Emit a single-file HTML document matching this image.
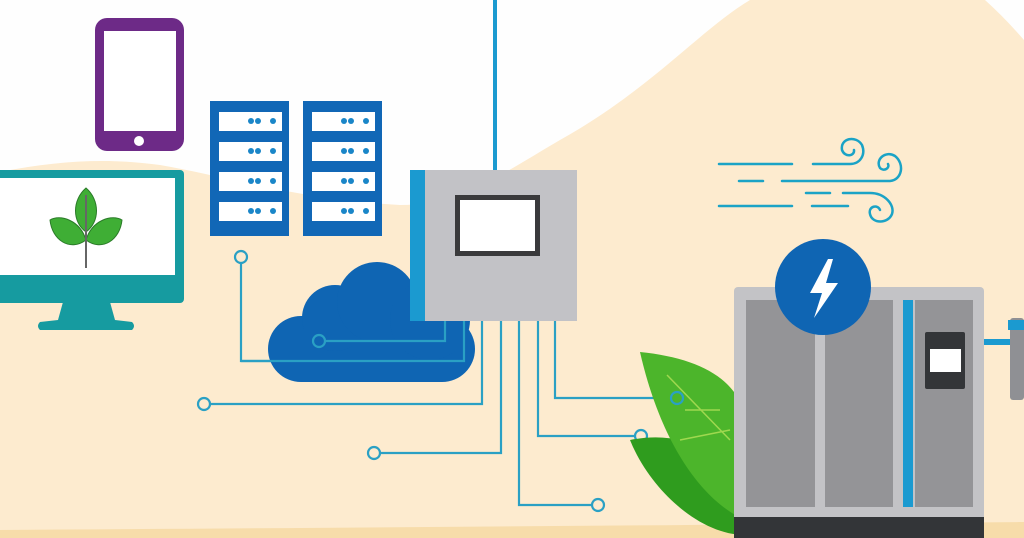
<!DOCTYPE html>
<html><head><style>html,body{margin:0;padding:0;background:#fff}svg{display:block}</style></head>
<body>
<svg width="1024" height="538" viewBox="0 0 1024 538" xmlns="http://www.w3.org/2000/svg">
<rect width="1024" height="538" fill="#fefefe"/>
<path d="M0 172 C60 160 110 158 160 165 C220 175 300 200 400 205 C460 205 500 175 560 140 C650 90 700 30 750 0 L985 0 Q1005 18 1024 40 L1024 538 L0 538 Z" fill="#fdebcf"/>
<path d="M0 530 C300 528 600 526 1024 522 L1024 538 L0 538Z" fill="#f7dcaa"/>
<rect x="493" y="0" width="4" height="172" fill="#1b9ad0"/>
<rect x="95" y="18" width="89" height="133" rx="12" fill="#6d2a87"/>
<rect x="104" y="31" width="72" height="100" fill="#fff"/>
<circle cx="139" cy="141" r="5" fill="#fff"/>
<rect x="-10" y="170" width="194" height="133" rx="4" fill="#169ba0"/>
<rect x="0" y="178" width="175" height="97" fill="#fff"/>
<path d="M63 302 L110 302 L115 320 L132 322 Q136 326 132 330 L40 330 Q36 326 40 322 L58 320Z" fill="#169ba0"/>
<g fill="#3fae35" stroke="#2a7a28" stroke-width="1">
<path d="M86 188 C72 200 72 222 86 232 C100 222 100 200 86 188Z"/>
<path d="M50 220 C60 214 80 220 86 240 C70 252 52 240 50 220Z"/>
<path d="M122 220 C112 214 92 220 86 240 C102 252 120 240 122 220Z"/>
</g>
<line x1="86" y1="195" x2="86" y2="268" stroke="#666" stroke-width="2"/>
<g id="srv">
<rect x="210" y="101" width="79" height="135" fill="#1167b6"/>
<g fill="#fff">
<rect x="219" y="112" width="63" height="19"/><rect x="219" y="142" width="63" height="19"/><rect x="219" y="172" width="63" height="19"/><rect x="219" y="202" width="63" height="19"/>
</g>
<g fill="#1a86c8">
<circle cx="251" cy="121" r="3"/><circle cx="258" cy="121" r="3"/><circle cx="273" cy="121" r="3"/>
<circle cx="251" cy="151" r="3"/><circle cx="258" cy="151" r="3"/><circle cx="273" cy="151" r="3"/>
<circle cx="251" cy="181" r="3"/><circle cx="258" cy="181" r="3"/><circle cx="273" cy="181" r="3"/>
<circle cx="251" cy="211" r="3"/><circle cx="258" cy="211" r="3"/><circle cx="273" cy="211" r="3"/>
</g>
</g>
<use href="#srv" x="93"/>
<g fill="none" stroke="#2aa0c4" stroke-width="2.2">
<path d="M241 263 V361 H464 V320"/>
<path d="M210 404 H482 V320"/>
<path d="M380 453 H501 V320"/>
<path d="M592 505 H519 V320"/>
<path d="M635 436 H538 V320"/>
<path d="M671 398 H555 V320"/>
<circle cx="241" cy="257" r="6"/><circle cx="204" cy="404" r="6"/>
<circle cx="374" cy="453" r="6"/><circle cx="598" cy="505" r="6"/><circle cx="641" cy="436" r="6"/>
</g>
<g fill="#0f65b3">
<rect x="268" y="316" width="207" height="66" rx="33"/>
<circle cx="335" cy="318" r="33"/>
<circle cx="377" cy="302" r="40"/>
<circle cx="430" cy="320" r="40"/>
</g>
<path d="M241 361 H464 V320" fill="none" stroke="#2aa0c4" stroke-width="2.2"/>
<path d="M325 341 H445 V320" fill="none" stroke="#2aa0c4" stroke-width="2.2"/>
<circle cx="319" cy="341" r="6" fill="none" stroke="#2aa0c4" stroke-width="2.2"/>
<rect x="410" y="170" width="167" height="151" fill="#c2c2c6"/>
<rect x="410" y="170" width="15" height="151" fill="#1b9ad0"/>
<rect x="455" y="195" width="85" height="61" fill="#3a3a3c"/>
<rect x="460" y="200" width="75" height="51" fill="#fff"/>
<g fill="none" stroke="#1ba3c6" stroke-width="2.5" stroke-linecap="round">
<path d="M719 164 H792"/><path d="M813 164 H850 C860 164 866 155 862 145 C856 135 840 138 842 150 C845 158 855 156 854 150"/>
<path d="M739 181 H763"/><path d="M782 181 H890 C902 180 905 164 895 156 C885 150 875 160 880 168 C884 172 890 168 888 164"/>
<path d="M806 193 H830"/><path d="M843 193 H870 C885 193 895 205 892 214 C888 224 872 224 870 214 C868 206 878 204 880 210"/>
<path d="M719 206 H792"/><path d="M812 206 H848"/>
</g>
<path d="M630 440 C680 430 720 450 745 480 L745 535 C700 535 650 490 630 440Z" fill="#2f9c1e"/>
<path d="M640 352 C700 358 740 380 745 420 L745 520 C700 500 660 440 640 352Z" fill="#4cb52b"/>
<g stroke="#9fd84f" stroke-width="1.5" fill="none"><path d="M667 375 L730 440"/><path d="M685 410 L720 410"/><path d="M680 440 L730 430"/></g>
<circle cx="677" cy="398" r="6" fill="none" stroke="#2aa0c4" stroke-width="2.2"/>
<rect x="734" y="287" width="250" height="235" rx="4" fill="#c3c3c6"/>
<rect x="734" y="517" width="250" height="21" fill="#333538"/>
<rect x="746" y="300" width="69" height="207" fill="#949497"/>
<rect x="825" y="300" width="68" height="207" fill="#949497"/>
<rect x="903" y="300" width="10" height="207" fill="#1b9ad0"/>
<rect x="915" y="300" width="58" height="207" fill="#949497"/>
<rect x="925" y="332" width="40" height="57" rx="2" fill="#333538"/>
<rect x="930" y="349" width="31" height="23" fill="#fff"/>
<circle cx="823" cy="287" r="48" fill="#0f65b3"/>
<path d="M828 259 L810 293 L822 293 L814 318 L838 283 L826 283 L833 259Z" fill="#fff"/>
<rect x="984" y="339" width="26" height="6" fill="#1b9ad0"/>
<rect x="1010" y="318" width="14" height="82" rx="3" fill="#8f9094"/>
<rect x="1008" y="320" width="16" height="10" fill="#1b9ad0"/>
</svg>
</body></html>
